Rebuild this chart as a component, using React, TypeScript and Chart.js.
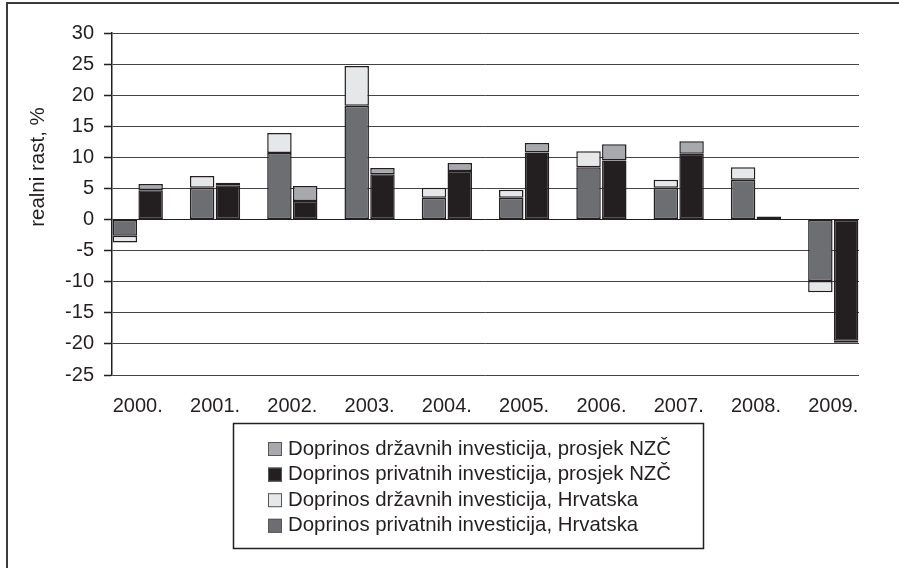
import React, { useEffect, useRef } from 'react';
import { Chart, registerables } from 'chart.js';

Chart.register(...registerables);

// ---- data ----
const years = ['2000.', '2001.', '2002.', '2003.', '2004.', '2005.', '2006.', '2007.', '2008.', '2009.'];
const hrPrivate = [-2.6, 5.1, 10.7, 18.3, 3.5, 3.5, 8.4, 5.1, 6.4, -9.9];
const hrState = [-1.1, 1.9, 3.2, 6.4, 1.6, 1.3, 2.6, 1.3, 2.0, -1.8];
const nzcPrivate = [4.7, 5.5, 3.0, 7.3, 7.8, 10.8, 9.5, 10.6, 0.5, -19.5];
const nzcState = [1.0, 0.4, 2.4, 1.0, 1.3, 1.5, 2.6, 2.0, 0, -0.3];
const yMin = -25;
const yMax = 30;
const yStep = 5;
const yTitle = 'realni rast, %';
const seriesLabels = [
  'Doprinos privatnih investicija, Hrvatska',
  'Doprinos državnih investicija, Hrvatska',
  'Doprinos privatnih investicija, prosjek NZČ',
  'Doprinos državnih investicija, prosjek NZČ',
];
const legendOrder = [3, 2, 1, 0];

// ---- layout helpers (3 slots per year: Hrvatska, NZČ, gap) ----
const SLOTS = years.length * 3 - 1;
const slotLabels = Array.from({ length: SLOTS }, (_, i) => `${years[Math.floor(i / 3)]}-${i % 3}`);
function spread(values: number[], pos: number) {
  const arr: (number | null)[] = Array(SLOTS).fill(null);
  values.forEach((v, k) => {
    arr[3 * k + pos] = v;
  });
  return arr;
}

const FONT = '"Liberation Sans", Arial, sans-serif';
const INK = '#231f20';

const framePlugin = {
  id: 'frameLegend',
  afterDraw(chart: any) {
    const ctx = chart.ctx as CanvasRenderingContext2D;
    ctx.save();
    // outer frame (top + left)
    ctx.strokeStyle = '#3a3a3a';
    ctx.lineWidth = 2;
    ctx.beginPath();
    ctx.moveTo(7, 568);
    ctx.lineTo(7, 3);
    ctx.lineTo(899, 3);
    ctx.stroke();
    // y axis title
    ctx.save();
    ctx.translate(38, 167);
    ctx.rotate(-Math.PI / 2);
    ctx.font = `20.5px ${FONT}`;
    ctx.fillStyle = INK;
    ctx.textAlign = 'center';
    ctx.textBaseline = 'middle';
    ctx.fillText(yTitle, 0, 0);
    ctx.restore();
    // legend box
    ctx.lineWidth = 1.5;
    ctx.strokeStyle = INK;
    ctx.strokeRect(233.5, 423.5, 470, 125);
    ctx.font = `20.4px ${FONT}`;
    ctx.textBaseline = 'middle';
    ctx.textAlign = 'left';
    legendOrder.forEach((di, r) => {
      const ds = chart.data.datasets[di];
      const y = 449 + r * 25.6;
      ctx.fillStyle = ds.backgroundColor;
      ctx.fillRect(268, y - 7, 14, 14);
      ctx.lineWidth = 1;
      ctx.strokeStyle = '#555';
      ctx.strokeRect(268.5, y - 6.5, 13, 13);
      ctx.fillStyle = INK;
      ctx.fillText(ds.label, 288, y);
    });
    ctx.restore();
  },
};

export default function App() {
  const ref = useRef<HTMLCanvasElement | null>(null);

  useEffect(() => {
    if (!ref.current) return;
    const mk = (label: string, data: (number | null)[], color: string) => ({
      label,
      data,
      backgroundColor: color,
      borderColor: INK,
      borderWidth: 1.5,
      borderSkipped: false as const,
      barPercentage: 0.95,
      categoryPercentage: 1,
    });
    const chart = new Chart(ref.current, {
      type: 'bar',
      data: {
        labels: slotLabels,
        datasets: [
          mk(seriesLabels[0], spread(hrPrivate, 0), '#6d6e71'),
          mk(seriesLabels[1], spread(hrState, 0), '#e6e7e8'),
          mk(seriesLabels[2], spread(nzcPrivate, 1), '#231f20'),
          mk(seriesLabels[3], spread(nzcState, 1), '#a7a9ac'),
        ],
      },
      options: {
        animation: false,
        responsive: false,
        maintainAspectRatio: false,
        layout: { padding: { top: 33, right: 40, left: 0, bottom: 0 } },
        plugins: {
          legend: { display: false },
          tooltip: { enabled: false },
        },
        scales: {
          x: {
            type: 'category',
            stacked: true,
            display: false,
            offset: true,
          },
          x2: {
            type: 'linear',
            position: 'bottom',
            offset: false,
            bounds: 'data',
            min: -0.5,
            max: SLOTS - 0.5,
            grid: { display: false, drawTicks: false, offset: false },
            border: { display: false },
            ticks: {
              autoSkip: false,
              maxRotation: 0,
              padding: 19,
              color: INK,
              font: { family: FONT, size: 20 },
              callback: (_v: any, i: number) => years[i],
            },
            afterBuildTicks: (s: any) => {
              s.ticks = years.map((_, k) => ({ value: 3 * k + 0.5 }));
              s.min = -0.5;
              s.max = SLOTS - 0.5;
            },
            afterFit: (s: any) => {
              s.height = 193;
            },
          },
          y: {
            stacked: true,
            min: yMin,
            max: yMax,
            ticks: {
              stepSize: yStep,
              padding: 10,
              color: INK,
              font: { family: FONT, size: 20 },
            },
            grid: {
              color: (c: any) => (c.tick && c.tick.value === 0 ? INK : '#444'),
              borderDash: (c: any) => (c.tick && c.tick.value === 0 ? [] : [2, 1]),
              lineWidth: 1,
              drawTicks: true,
              tickLength: 8,
              tickColor: INK,
              tickBorderDash: [],
              tickWidth: 1.5,
            },
            border: { display: true, color: INK, width: 1.5 },
            afterFit: (s: any) => {
              s.width = 112;
            },
          },
        },
      } as any,
      plugins: [framePlugin],
    });
    return () => chart.destroy();
  }, []);

  return (
    <div style={{ position: 'absolute', left: 0, top: 0, width: 899, height: 568, background: '#fff' }}>
      <canvas ref={ref} width={899} height={568} style={{ width: 899, height: 568, display: 'block' }} />
    </div>
  );
}
